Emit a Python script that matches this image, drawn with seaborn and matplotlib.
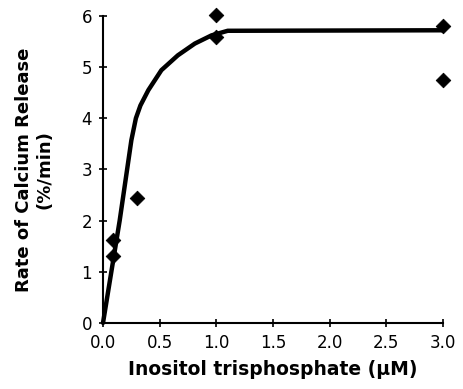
import numpy as np
import pandas as pd
import matplotlib
matplotlib.use("Agg")
import matplotlib.pyplot as plt
import seaborn as sns

# measured points
ip3_conc = [0.09, 0.09, 0.3, 1.0, 1.0, 3.0, 3.0]
release_rate = [1.31, 1.62, 2.44, 6.02, 5.59, 5.8, 4.75]

# fitted curve
curve_x = [0.0, 0.147, 0.25, 0.29, 0.33, 0.40, 0.515, 0.66, 0.81, 0.957, 1.10, 3.0]
curve_y = [0.0, 2.0, 3.57, 4.0, 4.25, 4.55, 4.94, 5.23, 5.46, 5.62, 5.71, 5.72]

x_ticks = [0.0, 0.5, 1.0, 1.5, 2.0, 2.5, 3.0]
y_ticks = [0, 1, 2, 3, 4, 5, 6]

sns.set_style("ticks")
plt.rcParams['font.family'] = ['DejaVu Sans']

fig = plt.figure(figsize=(4.63, 3.89), dpi=100)
ax = fig.add_axes([0.2225, 0.17, 0.7345, 0.789])

pts = pd.DataFrame({'x': ip3_conc, 'y': release_rate})
fit = pd.DataFrame({'x': curve_x, 'y': curve_y})

sns.lineplot(data=fit, x='x', y='y', color='black', linewidth=3.2, ax=ax,
             clip_on=False)
sns.scatterplot(data=pts, x='x', y='y', marker='D', s=55, color='black',
                edgecolor='black', ax=ax, clip_on=False, zorder=5)

ax.set_xlim(0, 3.0)
ax.set_ylim(0, 6)
ax.set_xticks(x_ticks)
ax.set_xticklabels([f'{t:.1f}' for t in x_ticks])
ax.set_yticks(y_ticks)
sns.despine(ax=ax)
for s in ['left', 'bottom']:
    ax.spines[s].set_linewidth(1.5)
    ax.spines[s].set_color('black')
ax.tick_params(direction='inout', length=6, width=1.2, colors='black',
               labelsize=12, pad=5)
ax.set_xlabel('Inositol trisphosphate (µM)', fontsize=13.5, fontweight='bold',
              color='black', labelpad=6)
ax.set_ylabel('Rate of Calcium Release\n(%/min)', fontsize=13,
              fontweight='bold', color='black', labelpad=20)

fig.savefig('out.png', dpi=100)
